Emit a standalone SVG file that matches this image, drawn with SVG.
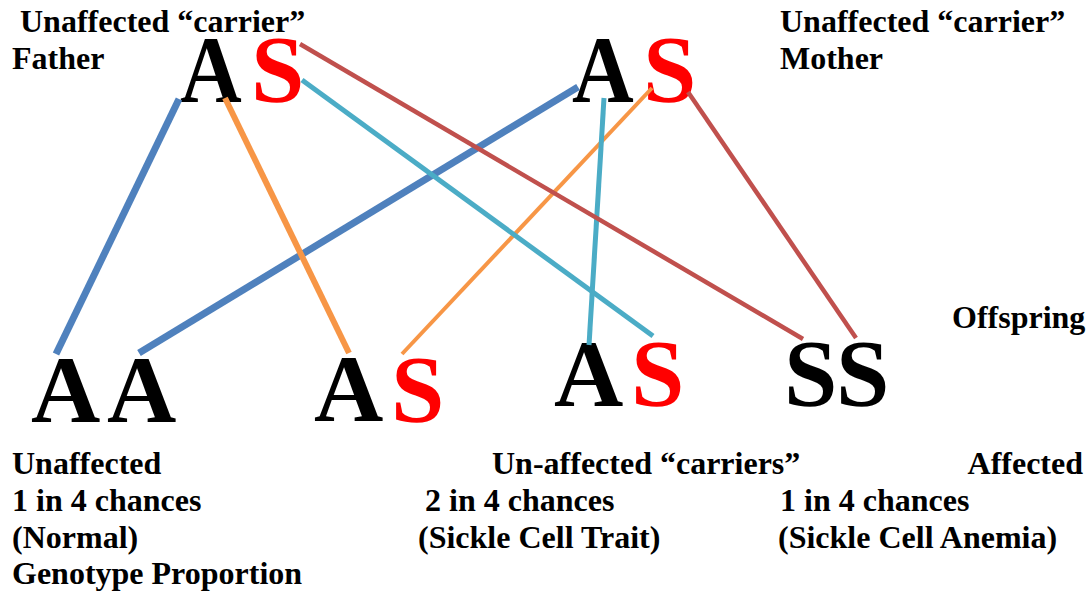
<svg xmlns="http://www.w3.org/2000/svg" width="1091" height="592" viewBox="0 0 1091 592">
  <style>
    text { font-family: 'Liberation Serif', 'Times New Roman', Times, serif; font-weight: 700; }
    .lbl { font-size: 32px; fill: #000; }
    .big { font-size: 96px; }
    .dom { fill: #000; }
    .rec { fill: #ff0000; }
    .blk { fill: #000; }
    .ln { fill: none; stroke-linecap: butt; }
    .blue { stroke: #4f81bd; stroke-width: 7; }
    .orange { stroke: #f79646; }
    .teal { stroke: #4bacc6; stroke-width: 5; }
    .red { stroke: #c0504d; stroke-width: 4.5; }
  </style>
  <rect width="1091" height="592" fill="#ffffff"/>

  <!-- Parents -->
  <g id="father">
    <text class="lbl" x="20" y="32">Unaffected “carrier”</text>
    <text class="lbl" x="12" y="69">Father</text>
    <text class="big dom" transform="translate(180,102) scale(0.89,1)">A</text>
    <text class="big rec" x="251" y="102">S</text>
  </g>
  <g id="mother">
    <text class="lbl" x="780" y="32">Unaffected “carrier”</text>
    <text class="lbl" x="780" y="69">Mother</text>
    <text class="big dom" transform="translate(572,102) scale(0.89,1)">A</text>
    <text class="big rec" x="643" y="102">S</text>
  </g>

  <!-- Offspring genotypes -->
  <g id="offspring-label">
    <text class="lbl" x="952" y="328">Offspring</text>
  </g>
  <g id="child-AA">
    <text class="big dom" x="31" y="422">A</text>
    <text class="big dom" x="107" y="422">A</text>
  </g>
  <g id="child-AS-1">
    <text class="big dom" x="314" y="421">A</text>
    <text class="big rec" x="391" y="422">S</text>
  </g>
  <g id="child-AS-2">
    <text class="big dom" x="554" y="406">A</text>
    <text class="big rec" x="631" y="406">S</text>
  </g>
  <g id="child-SS">
    <text class="big blk" x="784" y="406">S</text>
    <text class="big blk" x="836" y="406">S</text>
  </g>

  <!-- Outcome captions -->
  <g id="caption-normal">
    <text class="lbl" x="12" y="474">Unaffected</text>
    <text class="lbl" x="12" y="511">1 in 4 chances</text>
    <text class="lbl" x="12" y="548">(Normal)</text>
    <text class="lbl" x="12" y="584">Genotype Proportion</text>
  </g>
  <g id="caption-trait">
    <text class="lbl" x="492" y="474">Un-affected “carriers”</text>
    <text class="lbl" x="425" y="511">2 in 4 chances</text>
    <text class="lbl" x="418" y="548">(Sickle Cell Trait)</text>
  </g>
  <g id="caption-anemia">
    <text class="lbl" x="1083" y="474" text-anchor="end">Affected</text>
    <text class="lbl" x="780" y="511">1 in 4 chances</text>
    <text class="lbl" x="778" y="548">(Sickle Cell Anemia)</text>
  </g>

  <!-- Allele inheritance lines -->
  <g id="connectors">
    <line class="ln blue" x1="179" y1="99" x2="56" y2="354"/>
    <line class="ln blue" x1="578" y1="87" x2="139" y2="353"/>
    <line class="ln orange" stroke-width="6" x1="225" y1="98" x2="349" y2="353"/>
    <line class="ln orange" stroke-width="4" x1="652" y1="88" x2="402" y2="354"/>
    <line class="ln teal" x1="302" y1="80" x2="653" y2="336"/>
    <line class="ln teal" x1="604" y1="98" x2="589" y2="345"/>
    <line class="ln red" x1="300" y1="44" x2="803" y2="339"/>
    <line class="ln red" x1="688" y1="92" x2="856" y2="338"/>
  </g>
</svg>
